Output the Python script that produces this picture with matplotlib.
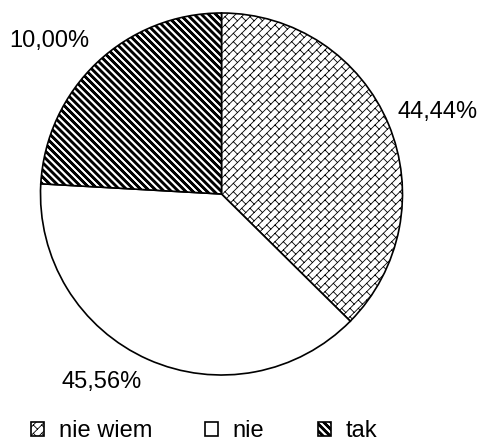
import numpy as np
import matplotlib
matplotlib.use('Agg')
import matplotlib.pyplot as plt
import matplotlib.hatch as mhatch
from matplotlib.path import Path

# ---- data ----
categories = ['nie wiem', 'nie', 'tak']
wedge_shares = [37.4, 38.5, 24.1]          # angular shares as drawn in the picture
label_texts = ['44,44%', '45,56%', '10,00%']  # printed data labels

# ---- style ----
BRICK = '++'
DIAG = '\\\\'
hatches = [BRICK, None, DIAG]
label_pos = [(1.196, 0.420), (-0.660, -1.072), (-0.953, 0.814)]
FS = 17


def _segments_to_path(segs):
    verts, codes = [], []
    for x0, y0, x1, y1 in segs:
        verts += [(x0, y0), (x1, y1)]
        codes += [Path.MOVETO, Path.LINETO]
    return Path(np.array(verts, float), codes)


def brick_path(n=12, m=6):
    segs = []
    for k in range(-n - 1, n + 2):
        s = k / n
        t0, t1 = -0.5, 2.5
        segs.append(((s + t0) / 2, (t0 - s) / 2, (s + t1) / 2, (t1 - s) / 2))
    for k in range(-n - 1, n + 1):
        s0, s1 = k / n, (k + 1) / n
        off = (k % 2) * 0.5 / m
        for j in range(-2, 2 * m + 3):
            t = j / m + off
            segs.append(((s0 + t) / 2, (t - s0) / 2, (s1 + t) / 2, (t - s1) / 2))
    return _segments_to_path(segs)


def diag_path(n=14, thick=(0.0, 0.007, 0.014, 0.021, 0.028)):
    segs = []
    for k in range(-2, 2 * n + 3):
        c = k / n
        for d in thick:
            cc = c + d
            segs.append((cc + 1, -1, cc - 2, 2))
    return _segments_to_path(segs)


_orig_get_path = mhatch.get_path


def _custom_get_path(hatchpattern, density=6):
    if hatchpattern == BRICK:
        return brick_path()
    if hatchpattern == DIAG:
        return diag_path()
    return _orig_get_path(hatchpattern, density)


mhatch.get_path = _custom_get_path

plt.rcParams['font.family'] = ['Liberation Sans', 'DejaVu Sans']
plt.rcParams['hatch.color'] = 'black'
plt.rcParams['hatch.linewidth'] = 0.6

W, H = 481, 443
fig = plt.figure(figsize=(W / 100, H / 100), dpi=100)
cx, cy, r = 221.5, 194.0, 181.0
ax = fig.add_axes([(cx - r) / W, (H - cy - r) / H, 2 * r / W, 2 * r / H])

wedges, _ = ax.pie(wedge_shares, startangle=90, counterclock=False,
                   colors=['white'] * 3,
                   wedgeprops=dict(edgecolor='black', linewidth=1.2))
for w, h in zip(wedges, hatches):
    if h:
        w.set_hatch(h)

ax.set_xlim(-1, 1)
ax.set_ylim(-1, 1)
ax.set_aspect('equal')
ax.axis('off')

for txt, (x, y) in zip(label_texts, label_pos):
    ax.text(x, y, txt, ha='center', va='baseline', fontsize=FS, color='black',
            clip_on=False)

leg = ax.legend(wedges, categories, loc='center', bbox_to_anchor=(0.424, 0.026),
                bbox_transform=fig.transFigure, ncol=3, frameon=False,
                handlelength=0.56, handleheight=0.56, handletextpad=0.62,
                columnspacing=2.25, fontsize=FS, borderpad=0)

fig.savefig('out.png', dpi=100)
